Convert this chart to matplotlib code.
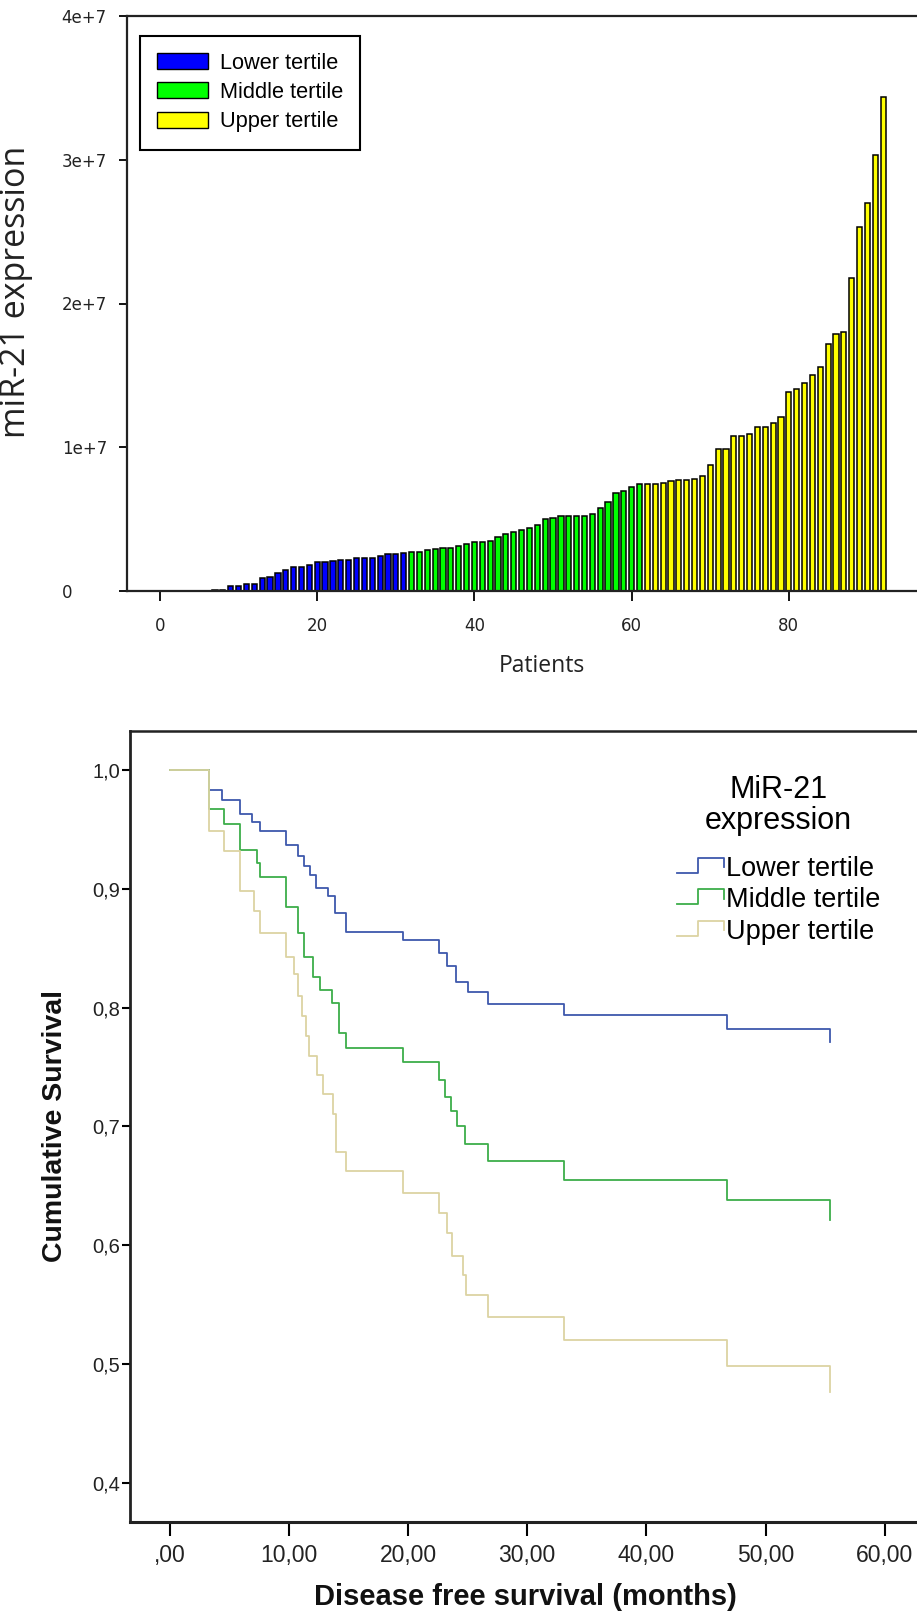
import numpy as np
import matplotlib
matplotlib.use('Agg')
import matplotlib.pyplot as plt
from matplotlib.patches import Patch
from matplotlib.lines import Line2D
from matplotlib.legend_handler import HandlerBase

# Expression de miR-21 par patient (en millions), triée, par tertile
tertile_inferieur = [0, 0, 0, 0, 0, 0, 0.10, 0.08, 0.33, 0.33, 0.51, 0.51, 0.88, 1.00,
                     1.27, 1.46, 1.65, 1.65, 1.81, 2.00, 2.02, 2.09, 2.18, 2.18, 2.27,
                     2.27, 2.27, 2.46, 2.55, 2.55, 2.62]
tertile_moyen = [2.72, 2.74, 2.83, 2.90, 2.97, 2.97, 3.11, 3.25, 3.39, 3.39, 3.48, 3.76,
                 3.97, 4.10, 4.24, 4.40, 4.57, 4.99, 5.08, 5.24, 5.24, 5.24, 5.24, 5.33,
                 5.75, 6.19, 6.84, 6.96, 7.22, 7.45]
tertile_superieur = [7.45, 7.45, 7.54, 7.65, 7.72, 7.72, 7.82, 8.00, 8.74, 9.86, 9.86,
                     10.78, 10.78, 10.90, 11.40, 11.40, 11.70, 12.07, 13.86, 14.04, 14.47,
                     15.05, 15.56, 17.15, 17.86, 18.01, 21.75, 25.30, 26.97, 30.36, 34.35]

noms_tertiles = ['Lower tertile', 'Middle tertile', 'Upper tertile']
couleurs_barres = ['#0000FF', '#00FF00', '#FFFF00']

ticks_y_haut = [0, 1e7, 2e7, 3e7, 4e7]
labels_y_haut = ['0', '1e+7', '2e+7', '3e+7', '4e+7']
ticks_x_haut = [0, 20, 40, 60, 80]

# Courbes de Kaplan-Meier (temps en mois, survie cumulée)
temps_inferieur = [0, 3.3, 4.4, 5.9, 6.9, 7.6, 9.8, 10.8, 11.3, 11.8, 12.3, 13.3, 13.9,
                   14.8, 19.6, 22.6, 23.3, 24.0, 25.0, 26.7, 33.1, 46.8, 55.4]
survie_inferieur = [1.0, 0.983, 0.975, 0.963, 0.956, 0.949, 0.937, 0.928, 0.919, 0.912,
                    0.901, 0.894, 0.880, 0.864, 0.857, 0.846, 0.835, 0.822, 0.813, 0.803,
                    0.794, 0.782, 0.771]
temps_moyen = [0, 3.3, 4.6, 5.9, 7.3, 7.6, 9.8, 10.8, 11.3, 12.0, 12.6, 13.6, 14.2, 14.8,
               19.6, 22.6, 23.1, 23.6, 24.1, 24.8, 26.7, 33.1, 46.8, 55.4]
survie_moyen = [1.0, 0.967, 0.955, 0.933, 0.922, 0.910, 0.885, 0.863, 0.843, 0.826,
                0.815, 0.804, 0.779, 0.766, 0.754, 0.739, 0.725, 0.713, 0.700, 0.685,
                0.671, 0.655, 0.638, 0.621]
temps_superieur = [0, 3.3, 4.6, 5.9, 7.1, 7.6, 9.8, 10.4, 10.8, 11.1, 11.4, 11.7, 12.4,
                   12.9, 13.7, 14.0, 14.8, 19.6, 22.6, 23.3, 23.7, 24.6, 24.9, 26.7, 33.1,
                   46.8, 55.4]
survie_superieur = [1.0, 0.949, 0.932, 0.898, 0.881, 0.863, 0.843, 0.828, 0.810, 0.793,
                    0.776, 0.759, 0.743, 0.727, 0.710, 0.678, 0.662, 0.644, 0.627, 0.610,
                    0.591, 0.575, 0.558, 0.539, 0.520, 0.498, 0.476]

couleurs_km = ['#3E58AC', '#3DAE4A', '#DCD3A3']

ticks_y_bas = [0.4, 0.5, 0.6, 0.7, 0.8, 0.9, 1.0]
labels_y_bas = ['0,4', '0,5', '0,6', '0,7', '0,8', '0,9', '1,0']
ticks_x_bas = [0, 10, 20, 30, 40, 50, 60]
labels_x_bas = [',00', '10,00', '20,00', '30,00', '40,00', '50,00', '60,00']


class HandlerMarche(HandlerBase):
    """Icône de légende en forme de marche (style SPSS)."""

    def create_artists(self, legend, orig_handle, xdescent, ydescent,
                       width, height, fontsize, trans):
        xs = np.array([0, 0.45, 0.45, 1.0, 1.0]) * width - xdescent
        ys = np.array([0.15, 0.15, 0.95, 0.95, 0.45]) * height - ydescent
        ligne = Line2D(xs, ys, color=orig_handle.get_color(),
                       lw=orig_handle.get_linewidth())
        ligne.set_transform(trans)
        return [ligne]


L, H = 917, 1612
fig = plt.figure(figsize=(L / 100, H / 100), dpi=100)

# ---------------- Graphe du haut : barres ----------------
ax1 = fig.add_axes([127 / L, 1 - 591 / H, 790 / L, 575 / H])

series = [tertile_inferieur, tertile_moyen, tertile_superieur]
debut = 1
for valeurs, couleur, nom in zip(series, couleurs_barres, noms_tertiles):
    x = np.arange(debut, debut + len(valeurs))
    ax1.bar(x, np.array(valeurs) * 1e6, width=0.66, color=couleur,
            edgecolor='black', linewidth=1.1, label=nom)
    debut += len(valeurs)

ax1.set_xlim(-4.2, 96.3)
ax1.set_ylim(0, 4e7)
ax1.set_yticks(ticks_y_haut)
ax1.set_yticklabels(labels_y_haut, ha='left', fontsize=12, family='DejaVu Sans', color='#222222')
ax1.set_xticks(ticks_x_haut)
ax1.set_xticklabels([str(t) for t in ticks_x_haut], fontsize=12, family='DejaVu Sans', color='#222222')
ax1.tick_params(axis='y', direction='out', length=6, width=1.3, pad=41)
ax1.tick_params(axis='x', direction='out', length=7, width=1.3, pad=12)
for cote in ['left', 'top', 'bottom']:
    ax1.spines[cote].set_linewidth(1.6)
    ax1.spines[cote].set_color('#222222')
ax1.spines['right'].set_visible(False)

ax1.set_ylabel('miR-21 expression', family='Open Sans', fontsize=24.5, color='#222222')
ax1.yaxis.set_label_coords(-0.119, 0.52)
ax1.set_xlabel('Patients', family='Open Sans', fontsize=16.5, color='#222222')
ax1.xaxis.set_label_coords(0.525, -0.110)

poignees = [Patch(facecolor=c, edgecolor='black', linewidth=1.0) for c in couleurs_barres]
leg1 = ax1.legend(poignees, noms_tertiles, loc='upper left', bbox_to_anchor=(0.0165, 0.966),
                  borderaxespad=0, fancybox=False, edgecolor='black',
                  prop={'family': 'Liberation Sans', 'size': 15.7},
                  handlelength=2.3, handleheight=0.75, handletextpad=0.55,
                  labelspacing=0.37, borderpad=0.8, framealpha=1)
leg1.get_frame().set_linewidth(1.5)

# ---------------- Graphe du bas : Kaplan-Meier ----------------
ax2 = fig.add_axes([129.8 / L, 1 - 1521.7 / H, (L - 129.8) / L, (1521.7 - 731) / H])

courbes = [(temps_inferieur, survie_inferieur),
           (temps_moyen, survie_moyen),
           (temps_superieur, survie_superieur)]
lignes = []
for (t, s), couleur in zip(courbes, couleurs_km):
    ligne, = ax2.step(t, s, where='post', color=couleur, linewidth=1.3)
    lignes.append(ligne)

ax2.set_xlim(-3.34, 62.7)
ax2.set_ylim(0.367, 1.033)
ax2.set_yticks(ticks_y_bas)
ax2.set_yticklabels(labels_y_bas, fontsize=14.5, family='Liberation Sans', color='#222222')
ax2.set_xticks(ticks_x_bas)
ax2.set_xticklabels(labels_x_bas, fontsize=16.5, family='Liberation Sans', color='#222222')
ax2.tick_params(axis='y', direction='out', length=6, width=1.5, pad=1)
ax2.tick_params(axis='x', direction='out', length=10, width=1.5, pad=6)
ax2.spines['left'].set_linewidth(2.0)
ax2.spines['bottom'].set_linewidth(2.2)
ax2.spines['top'].set_linewidth(1.8)
for cote in ['left', 'top', 'bottom']:
    ax2.spines[cote].set_color('#222222')
ax2.spines['right'].set_visible(False)

ax2.set_ylabel('Cumulative Survival', family='Liberation Sans', fontsize=20.5,
               fontweight='bold', color='#111111')
ax2.yaxis.set_label_coords(-0.079, 0.50)
ax2.set_xlabel('Disease free survival (months)', family='Liberation Sans', fontsize=21,
               fontweight='bold', color='#111111')
ax2.xaxis.set_label_coords(0.503, -0.077)

leg2 = ax2.legend(lignes, noms_tertiles, title='MiR-21\nexpression', loc='upper left',
                  bbox_to_anchor=(0.695, 0.944), borderaxespad=0, frameon=False,
                  prop={'family': 'Liberation Sans', 'size': 19.5},
                  title_fontproperties={'family': 'Liberation Sans', 'size': 22},
                  handlelength=1.75, handletextpad=0.05, labelspacing=0.2,
                  borderpad=0, handler_map={Line2D: HandlerMarche()})
leg2.get_title().set_multialignment('center')
leg2.get_title().set_linespacing(1.05)
leg2._legend_box.sep = 14

fig.savefig('out.png', dpi=100)
